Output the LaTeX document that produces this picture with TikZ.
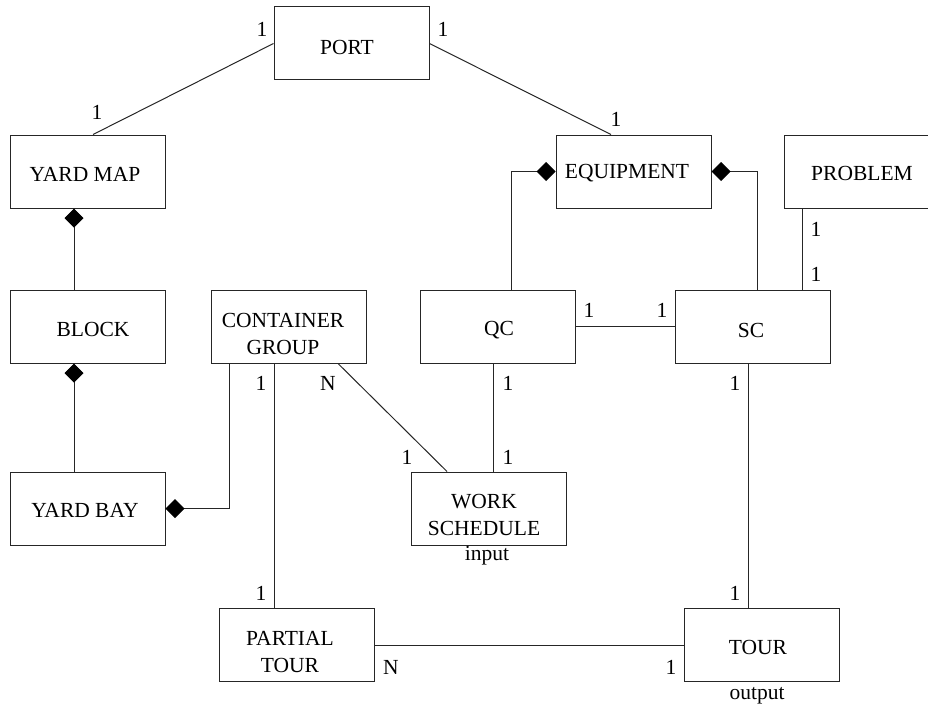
\documentclass[tikz,border=0pt]{standalone}
\usepackage{fontspec}
\setmainfont{Liberation Serif}
\usetikzlibrary{arrows.meta,calc}
\begin{document}
\begin{tikzpicture}[x=1pt,y=-1pt,
  every node/.style={font=\fontsize{21.5pt}{27pt}\selectfont, inner sep=0pt},
  box/.style={draw=black!85, line width=1pt, minimum width=155pt, minimum height=73pt},
  txt/.style={align=center},
  mult/.style={},
  link/.style={draw=black!85, line width=1pt},
  comp/.style={link, {Diamond[length=19pt,width=19pt,fill=black,color=black]}-}
]
\useasboundingbox (0,0) rectangle (928,706);
\clip (0,0) rectangle (928,706);

% entity boxes
\node[box] (port) at (351.5,43.5)  {};
\node[box] (ym)   at (87.5,171.5)  {};
\node[box] (eq)   at (633.5,171.5) {};
\node[box] (prob) at (861.5,171.5) {};
\node[box] (blk)  at (87.5,326.5)  {};
\node[box] (cg)   at (288.5,326.5) {};
\node[box] (qc)   at (497.5,326.5) {};
\node[box] (sc)   at (752.5,326.5) {};
\node[box] (yb)   at (87.5,508.5)  {};
\node[box] (ws)   at (488.5,508.5) {};
\node[box] (pt)   at (297,645)     {};
\node[box] (tour) at (761.5,645)   {};

% entity names
\node[txt] (port-t) at ($(port)+(-4.5,3.5)$) {PORT};
\node[txt] (ym-t)   at ($(ym)+(-2.5,2.5)$)   {YARD MAP};
\node[txt] (eq-t)   at ($(eq)+(-6.5,1.5)$)   {EQUIPMENT};
\node[txt] (prob-t) at ($(prob)+(0.5,1.5)$)  {PROBLEM};
\node[txt] (blk-t)  at ($(blk)+(5.5,2.5)$)   {BLOCK};
\node[txt] (cg-t)   at ($(cg)+(-5.5,7)$)     {CONTAINER\\GROUP};
\node[txt] (qc-t)   at ($(qc)+(1.5,3.5)$)    {QC};
\node[txt] (sc-t)   at ($(sc)+(-1.5,3.5)$)   {SC};
\node[txt] (yb-t)   at ($(yb)+(-2.5,1.5)$)   {YARD BAY};
\node[txt] (ws-t)   at ($(ws)+(-4.5,6.5)$)   {WORK\\SCHEDULE};
\node[txt] (pt-t)   at ($(pt)+(-7,7)$)       {PARTIAL\\TOUR};
\node[txt] (tour-t) at ($(tour)+(-3.5,2)$)   {TOUR};

% associations
\draw[link] (port.west) -- ([xshift=5.5pt]ym.north);
\draw[link] (port.east) -- ([xshift=-22.5pt]eq.north);
\draw[link] ([xshift=-59.5pt]prob.south) -- ([xshift=-59.5pt]prob.south |- sc.north);
\draw[link] (qc.east) -- (sc.west);
\draw[link] ([xshift=-4.5pt]qc.south) -- ([xshift=4.5pt]ws.north);
\draw[link] ([xshift=-4.5pt]sc.south) -- ([xshift=-13.5pt]tour.north);
\draw[link] ([xshift=-14.5pt]cg.south) -- ([xshift=-23pt]pt.north);
\draw[link] ([xshift=49.5pt]cg.south) -- ([xshift=-41.5pt]ws.north);
\draw[link] (pt.east) -- (tour.west);

% compositions
\draw[comp] (eq.west) -| ([xshift=13.5pt]qc.north);
\draw[comp] (eq.east) -| ([xshift=4.5pt]sc.north);
\draw[comp] ([xshift=-13.5pt]ym.south) -- ([xshift=-13.5pt]blk.north);
\draw[comp] ([xshift=-13.5pt]blk.south) -- ([xshift=-13.5pt]yb.north);
\draw[comp] (yb.east) -| ([xshift=-59.5pt]cg.south);

% multiplicities
\node (m1)  at (262,29)  {1};
\node (m2)  at (443,29)  {1};
\node (m3)  at (97,112)  {1};
\node (m4)  at (616,119) {1};
\node (m5)  at (816,229) {1};
\node (m6)  at (816,274) {1};
\node (m7)  at (589,310) {1};
\node (m8)  at (662,310) {1};
\node (m9)  at (261,383) {1};
\node (m10) at (328,383) {N};
\node (m11) at (508,383) {1};
\node (m12) at (735,383) {1};
\node (m13) at (407,457) {1};
\node (m14) at (508,457) {1};
\node (m15) at (261,593) {1};
\node (m16) at (735,593) {1};
\node (m17) at (391,667) {N};
\node (m18) at (671,667) {1};

% notes under boxes
\node (in)  at (487,556)   {input};
\node (out) at (757,695.5) {output};
\end{tikzpicture}
\end{document}
